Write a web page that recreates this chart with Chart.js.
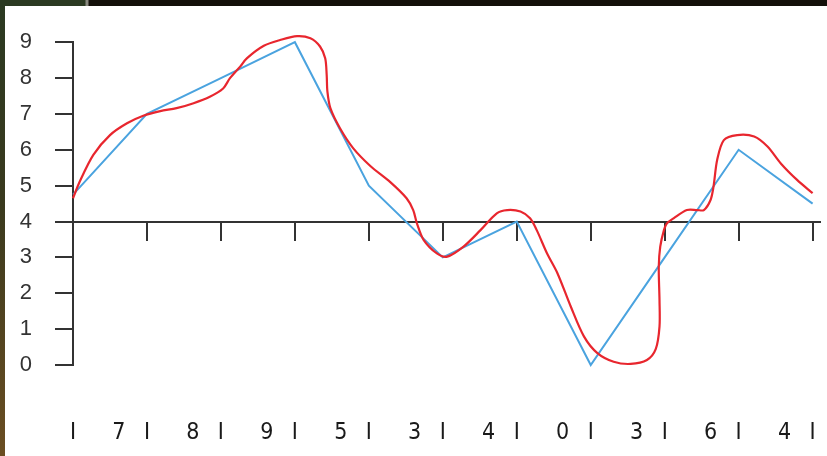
<!DOCTYPE html>
<html>
<head>
<meta charset="utf-8">
<script src="https://cdn.jsdelivr.net/npm/chart.js@4/dist/chart.umd.min.js"></script>
<style>
  body { margin: 0; background: #fff; }
  #frame {
    position: relative; width: 827px; height: 456px; overflow: hidden;
    background: linear-gradient(to bottom, #2b3a22 0%, #3a3a1e 45%, #6b4e22 100%);
  }
  #topband { position: absolute; left: 0; top: 0; width: 827px; height: 6px;
    background: linear-gradient(to right, #2b3a22 0, #2b3a22 85px, #8a8a80 86px, #8a8a80 88px, #14100a 89px); }
  #wrap { position: absolute; left: 5px; top: 6px; width: 822px; height: 450px; background: #fff; }
</style>
</head>
<body>
<div id="frame">
  <div id="topband"></div>
  <div id="wrap"><canvas id="chart" width="822" height="450"></canvas></div>
</div>
<script>
// blue series: one point per step
const blueX = [0, 1, 2, 3, 4, 5, 6, 7, 8, 9, 10]
const blueY = [4.75, 7, 8, 9, 5, 3, 4, 0, 3, 6, 4.5]

// red freehand curve
const redX = [0, 0.09, 0.275, 0.5, 0.73, 0.95, 1.18, 1.4, 1.63, 1.85, 2.03, 2.12, 2.26, 2.35, 2.58, 2.8, 3.03, 3.21, 3.34, 3.41, 3.43, 3.44, 3.48, 3.61, 3.79, 4.02, 4.29, 4.51, 4.6, 4.65, 4.74, 4.92, 5.06, 5.28, 5.51, 5.73, 5.87, 6.05, 6.18, 6.27, 6.41, 6.55, 6.73, 6.91, 7.09, 7.31, 7.54, 7.76, 7.88, 7.93, 7.93, 7.92, 7.94, 7.99, 8.03, 8.12, 8.3, 8.44, 8.53, 8.62, 8.66, 8.71, 8.8, 8.98, 9.21, 9.39, 9.57, 9.79, 10.0]
const redY = [4.65, 5.11, 5.86, 6.41, 6.74, 6.95, 7.08, 7.16, 7.3, 7.48, 7.71, 7.99, 8.32, 8.55, 8.9, 9.06, 9.17, 9.11, 8.88, 8.55, 8.09, 7.62, 7.16, 6.6, 6.04, 5.55, 5.1, 4.65, 4.32, 3.95, 3.49, 3.11, 3.02, 3.3, 3.76, 4.23, 4.32, 4.28, 4.09, 3.76, 3.11, 2.56, 1.63, 0.79, 0.33, 0.09, 0.03, 0.14, 0.45, 1.07, 1.81, 2.74, 3.3, 3.76, 3.95, 4.09, 4.32, 4.32, 4.32, 4.6, 4.97, 5.72, 6.27, 6.41, 6.37, 6.09, 5.62, 5.16, 4.79]

// bottom row: "I" at every step, a digit just left of each "I"
const bottomDigits = ['7', '8', '9', '5', '3', '4', '0', '3', '6', '4']
const xTickValues = [0, 1, 2, 3, 4, 5, 6, 7, 8, 9, 10]

const axisColor = '#333333'

let bottomTicks = []
xTickValues.forEach((v, i) => {
  if (i > 0) bottomTicks.push({ value: v - 0.38, label: bottomDigits[i - 1] })
  bottomTicks.push({ value: v, label: 'I' })
})
bottomTicks.sort((a, b) => a.value - b.value)

const redPoints = redX.map((x, i) => ({ x: x, y: redY[i] }))
const bluePoints = blueX.map((x, i) => ({ x: x, y: blueY[i] }))

new Chart(document.getElementById('chart'), {
  type: 'line',
  data: {
    datasets: [{
      data: redPoints,
      borderColor: '#e8262e',
      borderWidth: 2.2,
      pointRadius: 0,
      tension: 0.3,
      clip: false,
      xAxisID: 'x',
      yAxisID: 'y'
    }, {
      data: bluePoints,
      borderColor: '#4aa3df',
      borderWidth: 2,
      pointRadius: 0,
      tension: 0,
      clip: false,
      xAxisID: 'x',
      yAxisID: 'y'
    }]
  },
  options: {
    responsive: false,
    animation: false,
    devicePixelRatio: 1,
    layout: { padding: { top: 36, right: 7, left: 0, bottom: 0 } },
    plugins: { legend: { display: false }, tooltip: { enabled: false } },
    scales: {
      x: {
        type: 'linear',
        position: { y: 4 },
        min: 0,
        max: 10.1,
        afterBuildTicks: (s) => { s.ticks = xTickValues.map(v => ({ value: v })) },
        ticks: { display: false, padding: 0 },
        grid: { drawOnChartArea: false, drawTicks: true, tickLength: 18, color: axisColor, lineWidth: 2 },
        border: { color: axisColor, width: 2 }
      },
      x2: {
        type: 'linear',
        position: 'bottom',
        min: 0,
        max: 10.1,
        afterBuildTicks: (s) => { s.ticks = bottomTicks.map(t => ({ value: t.value })) },
        afterFit: (s) => { s.height = 91 },
        // invisible tick marks push the labels down without widening the side padding
        grid: { display: true, drawOnChartArea: false, drawTicks: true, tickLength: 54, color: 'rgba(0,0,0,0)' },
        border: { display: false },
        ticks: {
          autoSkip: false,
          maxRotation: 0,
          padding: 0,
          color: '#1a1a1a',
          font: { family: '"Liberation Sans Narrow", "DejaVu Sans Condensed", "Liberation Sans", sans-serif', size: 23 },
          callback: (v, i) => bottomTicks[i].label
        }
      },
      y: {
        position: 'left',
        min: 0,
        max: 9,
        afterFit: (s) => { s.width = 68 },
        ticks: {
          stepSize: 1,
          padding: 23,
          color: axisColor,
          font: { family: '"Liberation Sans", Arial, sans-serif', size: 22 }
        },
        grid: { drawOnChartArea: false, tickLength: 18, color: axisColor, lineWidth: 2 },
        border: { color: axisColor, width: 2 }
      }
    }
  }
})
</script>
</body>
</html>
